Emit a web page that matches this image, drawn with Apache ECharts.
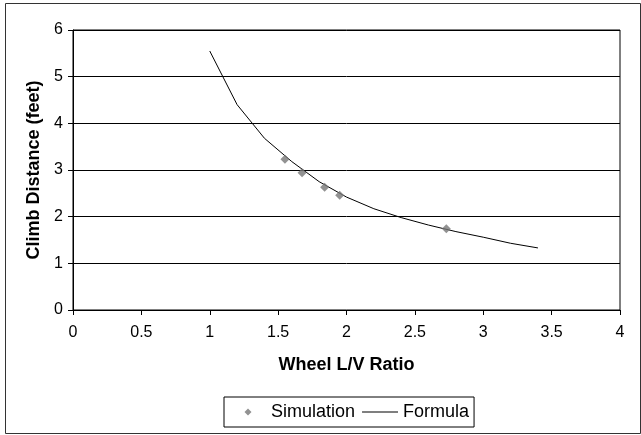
<!DOCTYPE html>
<html>
<head>
<meta charset="utf-8">
<script src="https://cdn.jsdelivr.net/npm/echarts@6/dist/echarts.min.js"></script>
<style>
  html, body { margin: 0; padding: 0; background: #fff; }
  #chart { width: 641px; height: 435px; }
</style>
</head>
<body>
<div id="chart"></div>
<script>
// climb distance vs wheel L/V ratio
var simRatio = [1.55, 1.675, 1.84, 1.95, 2.73];
var simDistance = [3.23, 2.94, 2.63, 2.46, 1.74];

var formulaRatio = [1.0, 1.2, 1.4, 1.6, 1.8, 2.0, 2.2, 2.4, 2.6, 2.8, 3.0, 3.2, 3.4];
var formulaDistance = [5.55, 4.4, 3.68, 3.18, 2.75, 2.42, 2.17, 1.98, 1.82, 1.68, 1.56, 1.43, 1.33];

var font = 'Liberation Sans, Arial, sans-serif';

function pairs(xs, ys) {
    return xs.map(function (x, i) { return [x, ys[i]]; });
}

// legend icons padded out to the same 36x8 box so the diamond keeps its shape
var diamondIcon = 'path://M0,4L0.01,4ZM36,4L35.99,4ZM18,0.5L21.5,4L18,7.5L14.5,4Z';
var lineIcon = 'path://M0,0L0.01,0ZM0,8L0.01,8ZM0,3.5L36,3.5L36,4.5L0,4.5Z';

var chart = echarts.init(document.getElementById('chart'), null, { renderer: 'canvas' });
chart.setOption({
    animation: false,
    backgroundColor: '#fff',
    graphic: [{
        type: 'rect',
        shape: { x: 5.5, y: 3.5, width: 635, height: 430 },
        style: { fill: 'none', stroke: '#333', lineWidth: 1 }
    }],
    grid: { left: 73, right: 21, top: 30, bottom: 125, show: true, borderColor: '#000', borderWidth: 1 },
    xAxis: {
        type: 'value',
        min: 0, max: 4, interval: 0.5,
        name: 'Wheel L/V Ratio',
        nameLocation: 'middle',
        nameGap: 46,
        nameTextStyle: { fontFamily: font, fontSize: 18, fontWeight: 'bold', color: '#000' },
        axisLine: { lineStyle: { color: '#000' } },
        axisTick: { show: true, length: 5, lineStyle: { color: '#000' } },
        axisLabel: { fontFamily: font, fontSize: 16, color: '#000', margin: 15 },
        splitLine: { show: false }
    },
    yAxis: {
        type: 'value',
        min: 0, max: 6, interval: 1,
        name: 'Climb Distance (feet)',
        nameLocation: 'middle',
        nameGap: 29,
        nameTextStyle: { fontFamily: font, fontSize: 18, fontWeight: 'bold', color: '#000' },
        axisLine: { show: true, lineStyle: { color: '#000' } },
        axisTick: { show: true, length: 5, lineStyle: { color: '#000' } },
        axisLabel: { fontFamily: font, fontSize: 16, color: '#000', margin: 10 },
        splitLine: { show: true, lineStyle: { color: '#000', width: 1 } }
    },
    legend: {
        top: 397,
        left: 224,
        data: [
            { name: 'Simulation', icon: diamondIcon, itemStyle: { color: '#777' } },
            { name: 'Formula', icon: lineIcon, itemStyle: { color: '#000' } }
        ],
        itemWidth: 36,
        itemHeight: 8,
        itemGap: 7,
        borderColor: '#000',
        borderWidth: 1,
        borderRadius: 0,
        padding: [6, 5, 6, 6],
        textStyle: { fontFamily: font, fontSize: 18, color: '#000' }
    },
    series: [{
        name: 'Simulation',
        type: 'scatter',
        symbol: 'diamond',
        symbolSize: 9,
        itemStyle: { color: '#777' },
        data: pairs(simRatio, simDistance),
        z: 3
    }, {
        name: 'Formula',
        type: 'line',
        showSymbol: false,
        symbol: 'none',
        lineStyle: { color: '#000', width: 1 },
        itemStyle: { color: '#000' },
        data: pairs(formulaRatio, formulaDistance),
        z: 2
    }]
});
</script>
</body>
</html>
